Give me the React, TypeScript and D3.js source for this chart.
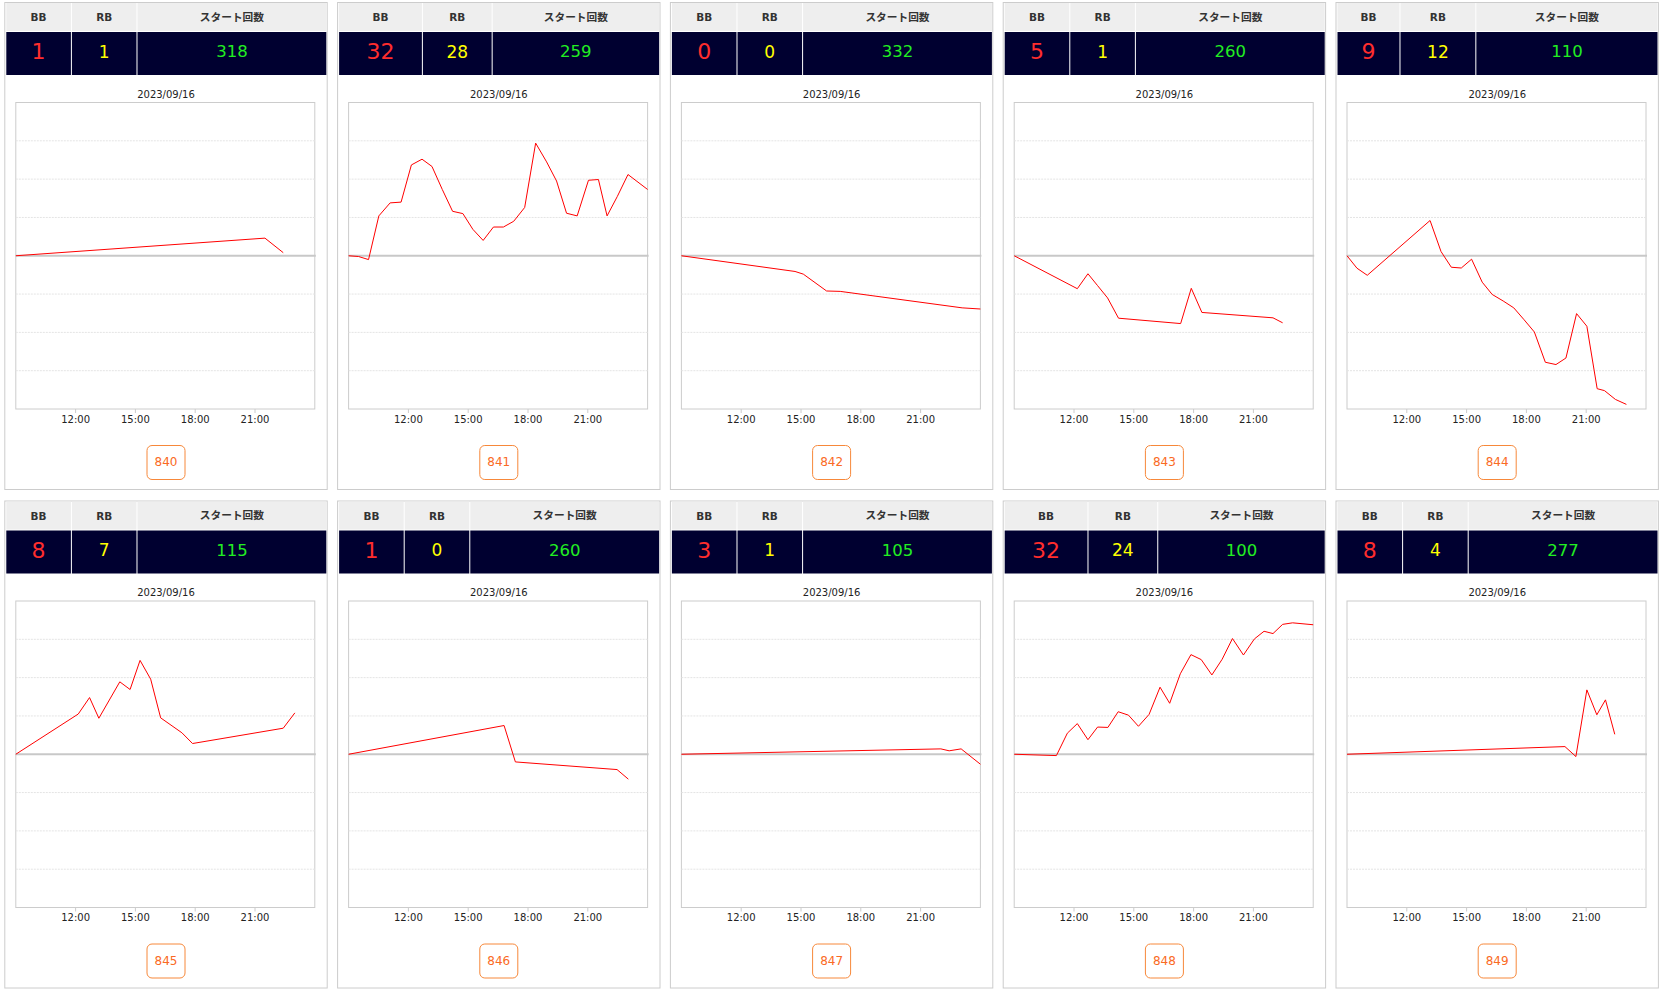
import React from "react";
import * as d3 from "d3";

type Pt = [string, number];

const chartDate = "2023/09/16";
const machineNumbers = ["840", "841", "842", "843", "844", "845", "846", "847", "848", "849"];
const bbCounts = [1, 32, 0, 5, 9, 8, 1, 3, 32, 8];
const rbCounts = [1, 28, 0, 1, 12, 7, 0, 1, 24, 4];
const startCounts = [318, 259, 332, 260, 110, 115, 260, 105, 100, 277];
const headerLabels = ["BB", "RB", "スタート回数"];
const timeTicks = ["12:00", "15:00", "18:00", "21:00"];
const gridValues = [-3000, -2000, -1000, 1000, 2000, 3000];

// coin difference over the day, [time, value]
const series840: Pt[] = [["9:00", 0], ["21:30", 460], ["22:25", 80]];
const series841: Pt[] = [
  ["9:00", 0], ["9:30", -20], ["10:00", -100], ["10:31", 1040], ["11:05", 1380], ["11:38", 1400],
  ["12:09", 2370], ["12:41", 2520], ["13:11", 2330], ["13:42", 1730], ["14:13", 1160], ["14:44", 1100],
  ["15:14", 690], ["15:45", 400], ["16:16", 750], ["16:46", 750], ["17:17", 900], ["17:50", 1260],
  ["18:23", 2940], ["18:56", 2450], ["19:26", 1950], ["19:56", 1110], ["20:28", 1040], ["21:02", 1970],
  ["21:32", 1990], ["21:58", 1040], ["22:29", 1550], ["23:01", 2120], ["24:00", 1730],
];
const series842: Pt[] = [
  ["9:00", 0], ["14:42", -410], ["15:07", -480], ["16:17", -920], ["16:58", -930], ["23:05", -1360], ["24:00", -1390],
];
const series843: Pt[] = [
  ["9:00", 0], ["12:10", -860], ["12:42", -470], ["13:11", -780], ["13:41", -1100], ["14:14", -1630],
  ["17:21", -1770], ["17:53", -850], ["18:25", -1480], ["21:59", -1620], ["22:28", -1750],
];
const series844: Pt[] = [
  ["9:00", 0], ["9:30", -325], ["10:01", -510], ["13:10", 920], ["13:43", 110], ["14:14", -300],
  ["14:44", -320], ["15:15", -90], ["15:47", -690], ["16:17", -1010], ["16:50", -1180], ["17:22", -1360],
  ["17:53", -1670], ["18:24", -1990], ["18:57", -2780], ["19:29", -2840], ["19:59", -2670], ["20:31", -1510],
  ["21:02", -1840], ["21:33", -3470], ["21:55", -3520], ["22:28", -3750], ["23:01", -3880],
];
const series845: Pt[] = [
  ["9:00", 0], ["12:08", 1050], ["12:42", 1480], ["13:10", 940], ["14:13", 1890], ["14:44", 1690],
  ["15:14", 2450], ["15:46", 1960], ["16:16", 950], ["17:20", 560], ["17:52", 280], ["22:25", 680], ["23:00", 1080],
];
const series846: Pt[] = [["9:00", 0], ["16:48", 750], ["17:22", -200], ["22:28", -400], ["23:02", -650]];
const series847: Pt[] = [["9:00", 0], ["22:01", 140], ["22:26", 90], ["23:02", 140], ["24:00", -260]];
const series848: Pt[] = [
  ["9:00", 0], ["11:07", -35], ["11:40", 550], ["12:10", 800], ["12:42", 380], ["13:11", 710],
  ["13:42", 700], ["14:13", 1110], ["14:44", 1020], ["15:14", 730], ["15:46", 1040], ["16:19", 1750],
  ["16:48", 1330], ["17:20", 2100], ["17:52", 2600], ["18:23", 2470], ["18:55", 2070], ["19:26", 2480],
  ["19:57", 3020], ["20:30", 2590], ["21:03", 3010], ["21:32", 3210], ["21:59", 3150], ["22:28", 3390],
  ["22:58", 3430], ["24:00", 3380],
];
const series849: Pt[] = [
  ["9:00", 0], ["19:56", 200], ["20:29", -60], ["21:02", 1680], ["21:32", 1030], ["21:58", 1420], ["22:26", 520],
];
const allSeries = [series840, series841, series842, series843, series844, series845, series846, series847, series848, series849];

const FONT = "'DejaVu Sans', Verdana, sans-serif";
const HEAD_FONT = "'DejaVu Sans', 'Noto Sans CJK JP', sans-serif";

const day0 = d3.timeParse("%Y/%m/%d")(chartDate) as Date;
const toDate = (hm: string) => {
  const [h, m] = hm.split(":").map(Number);
  return d3.timeMinute.offset(day0, h * 60 + m);
};

const PANEL_W = 323.4;
const PANEL_H = 488;
const COL_PITCH = 332.8;
const ROW_TOPS = [2, 500.5];

// auto table layout: widths follow content, extra space shared out
function columnWidths(bb: number, rb: number, start: number, total: number) {
  const pad = 10;
  const w = [
    Math.max(16, String(bb).length * 13.9) + pad,
    Math.max(16, String(rb).length * 10.7) + pad,
    Math.max(66, String(start).length * 10.2) + pad,
  ];
  const sum = d3.sum(w);
  return w.map((v) => (v * total) / sum);
}

function Panel({ i, x, y }: { i: number; x: number; y: number }) {
  const xScale = d3.scaleTime().domain([toDate("9:00"), toDate("24:00")]).range([11.5, 310.5]);
  const yScale = d3.scaleLinear().domain([-4000, 4000]).range([407, 100.5]);
  const line = d3
    .line<Pt>()
    .x((d) => xScale(toDate(d[0])))
    .y((d) => yScale(d[1]));

  const widths = columnWidths(bbCounts[i], rbCounts[i], startCounts[i], 318);
  const cellX = [2, 2 + widths[0] + 1, 2 + widths[0] + widths[1] + 2];
  const values = [bbCounts[i], rbCounts[i], startCounts[i]];
  const valueColors = ["#ff2d2d", "#ffff00", "#22ee22"];
  const valueSizes = [22, 17, 16.5];
  const cx = PANEL_W / 2;

  return (
    <g transform={`translate(${x},${y})`}>
      <rect x={0.5} y={0.5} width={PANEL_W - 1} height={PANEL_H - 1} fill="#fff" stroke="#cccccc" />

      {/* header table */}
      {widths.map((w, c) => (
        <g key={c}>
          <rect x={cellX[c]} y={1} width={w} height={28} fill="#eeeeee" />
          <text
            x={cellX[c] + w / 2}
            y={15}
            textAnchor="middle"
            dominantBaseline="central"
            fontFamily={HEAD_FONT}
            fontWeight="bold"
            fontSize={c === 2 ? 10.7 : 10.5}
            fill="#333"
          >
            {headerLabels[c]}
          </text>
          <rect x={cellX[c]} y={30} width={w} height={43} fill="#000030" />
          <text
            x={cellX[c] + w / 2}
            y={49.5}
            textAnchor="middle"
            dominantBaseline="central"
            fontFamily={FONT}
            fontSize={valueSizes[c]}
            fill={valueColors[c]}
          >
            {values[c]}
          </text>
        </g>
      ))}

      <text x={cx} y={92} textAnchor="middle" dominantBaseline="central" fontFamily={FONT} fontSize={10} fill="#222">
        {chartDate}
      </text>

      {/* plot */}
      <rect x={11.5} y={100.5} width={299} height={306.5} fill="#fff" stroke="#cccccc" />
      {gridValues.map((v) => (
        <line key={v} x1={11.5} x2={311} y1={yScale(v)} y2={yScale(v)} stroke="#e4e4e4" strokeDasharray="2,1" />
      ))}
      <line x1={11.5} x2={311.5} y1={yScale(0)} y2={yScale(0)} stroke="#c8c8c8" strokeWidth={2} />
      {timeTicks.map((t) => {
        const tx = xScale(toDate(t));
        return (
          <g key={t}>
            <line x1={tx} x2={tx} y1={407} y2={411} stroke="#cccccc" />
            <text x={tx} y={417} textAnchor="middle" dominantBaseline="central" fontFamily={FONT} fontSize={10} fill="#222">
              {t}
            </text>
          </g>
        );
      })}
      <path d={line(allSeries[i]) || ""} fill="none" stroke="#ff0000" strokeWidth={1} />

      {/* machine number button */}
      <rect x={cx - 19} y={443.5} width={38} height={34} rx={5} fill="#fff" stroke="#f7883a" />
      <text x={cx} y={460} textAnchor="middle" dominantBaseline="central" fontFamily={FONT} fontSize={12} fill="#fa6a24">
        {machineNumbers[i]}
      </text>
    </g>
  );
}

export default function App() {
  return (
    <svg width={1664} height={993} style={{ position: "absolute", left: 0, top: 0, background: "#fff" }}>
      {machineNumbers.map((m, i) => (
        <Panel key={m} i={i} x={4.3 + (i % 5) * COL_PITCH} y={ROW_TOPS[Math.floor(i / 5)]} />
      ))}
    </svg>
  );
}
